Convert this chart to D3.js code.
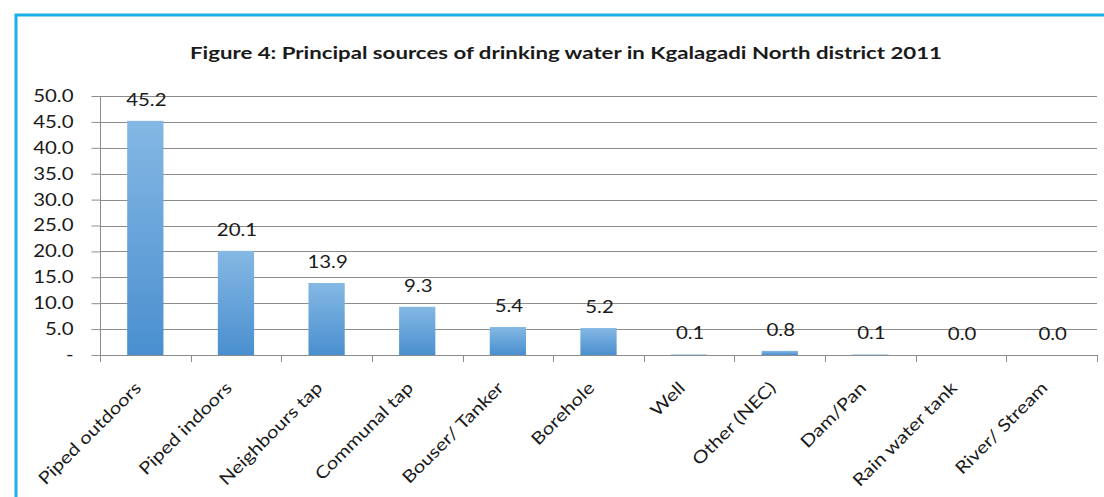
<!DOCTYPE html>
<html>
<head>
<meta charset="utf-8">
<script src="https://cdn.jsdelivr.net/npm/d3@7"></script>
<style>
  html, body { margin: 0; padding: 0; background: #fff; }
  svg { display: block; }
</style>
</head>
<body>
<svg id="chart" width="1104" height="497"></svg>
<script>
// Principal sources of drinking water, Kgalagadi North district 2011 (%)
const categories = ["Piped outdoors", "Piped indoors", "Neighbours tap", "Communal tap",
  "Bouser/ Tanker", "Borehole", "Well", "Other (NEC)", "Dam/Pan", "Rain water tank", "River/ Stream"];
const shares = [45.2, 20.1, 13.9, 9.3, 5.4, 5.2, 0.1, 0.8, 0.1, 0.0, 0.0];
const yTicks = [0, 5, 10, 15, 20, 25, 30, 35, 40, 45, 50];
const titleText = "Figure 4: Principal sources of drinking water in Kgalagadi North district 2011";

const svg = d3.select("#chart");
const font = "Lato, 'Open Sans', sans-serif";
const textColor = "#1a1a1a";
const widen = 1.2;   // horizontal stretch applied to all labels

// outer frame
svg.append("rect")
  .attr("x", 16).attr("y", 15)
  .attr("width", 1200).attr("height", 600)
  .attr("fill", "none")
  .attr("stroke", "#1aaeea")
  .attr("stroke-width", 3);

const plot = { left: 100, right: 1097, top: 96, bottom: 355 };

const x = d3.scaleBand()
  .domain(categories)
  .range([plot.left, plot.right])
  .paddingInner(0.6)
  .paddingOuter(0.3);

const y = d3.scaleLinear()
  .domain([0, 50])
  .range([plot.bottom, plot.top]);

// gradient and soft edge for the bars
const defs = svg.append("defs");
const grad = defs.append("linearGradient")
  .attr("id", "barFill").attr("x1", 0).attr("y1", 0).attr("x2", 0).attr("y2", 1);
grad.append("stop").attr("offset", "0%").attr("stop-color", "#84b8e4");
grad.append("stop").attr("offset", "100%").attr("stop-color", "#4a8fcf");
const soft = defs.append("filter").attr("id", "soft")
  .attr("x", "-20%").attr("y", "-20%").attr("width", "140%").attr("height", "140%");
soft.append("feGaussianBlur").attr("stdDeviation", 0.6);

// title
svg.append("text")
  .attr("x", 190).attr("y", 59)
  .attr("textLength", 752)
  .attr("lengthAdjust", "spacingAndGlyphs")
  .attr("font-family", font)
  .attr("font-weight", "bold")
  .attr("font-size", 17)
  .attr("fill", textColor)
  .text(titleText);

// horizontal gridlines
svg.append("g")
  .selectAll("line")
  .data(yTicks.filter(d => d > 0))
  .join("line")
  .attr("x1", plot.left).attr("x2", plot.right)
  .attr("y1", d => Math.round(y(d)) + 0.5).attr("y2", d => Math.round(y(d)) + 0.5)
  .attr("stroke", "#8c8c8c").attr("stroke-width", 1);

// y axis
const yAxis = svg.append("g")
  .attr("transform", `translate(${plot.left + 0.5},0)`)
  .call(d3.axisLeft(y).tickValues(yTicks).tickSize(9).tickPadding(0)
    .tickFormat(d => d === 0 ? "-" : d3.format(".1f")(d)));
yAxis.selectAll("path, line").attr("stroke", "#8c8c8c");
yAxis.select(".domain").attr("d", `M0,${plot.top}V${plot.bottom}`);
yAxis.selectAll(".tick text")
  .attr("x", null)
  .attr("transform", `translate(-27,0) scale(${widen},1)`)
  .attr("font-family", font)
  .attr("font-size", 17)
  .attr("fill", textColor);

// bars
const rows = categories.map((c, i) => ({ c, v: shares[i] }));
svg.append("g")
  .selectAll("rect")
  .data(rows)
  .join("rect")
  .attr("x", d => x(d.c))
  .attr("width", x.bandwidth())
  .attr("y", d => y(d.v))
  .attr("height", d => y(0) - y(d.v))
  .attr("fill", "url(#barFill)")
  .attr("filter", "url(#soft)");

// value labels
svg.append("g")
  .selectAll("text")
  .data(rows)
  .join("text")
  .attr("transform", d => `translate(${x(d.c) + x.bandwidth() / 2 + 1},${y(d.v) - 15}) scale(${widen},1)`)
  .attr("text-anchor", "middle")
  .attr("font-family", font)
  .attr("font-size", 17)
  .attr("fill", textColor)
  .text(d => d3.format(".1f")(d.v));

// x axis line with tick marks at band boundaries
const xAxisG = svg.append("g");
xAxisG.append("line")
  .attr("x1", plot.left).attr("x2", plot.right)
  .attr("y1", plot.bottom + 0.5).attr("y2", plot.bottom + 0.5)
  .attr("stroke", "#8c8c8c");
const boundaries = d3.range(categories.length + 1).map(i => plot.left + i * x.step());
xAxisG.selectAll("line.tick")
  .data(boundaries)
  .join("line")
  .attr("class", "tick")
  .attr("x1", d => Math.round(d) + 0.5).attr("x2", d => Math.round(d) + 0.5)
  .attr("y1", plot.bottom).attr("y2", plot.bottom + 7)
  .attr("stroke", "#8c8c8c");

// rotated category labels
svg.append("g")
  .selectAll("text")
  .data(categories)
  .join("text")
  .attr("transform", d => `translate(${x(d) + x.bandwidth() / 2 - 3},${plot.bottom + 34}) rotate(-45) scale(${widen},1)`)
  .attr("text-anchor", "end")
  .attr("font-family", font)
  .attr("font-size", 17)
  .attr("fill", textColor)
  .text(d => d);
</script>
</body>
</html>
